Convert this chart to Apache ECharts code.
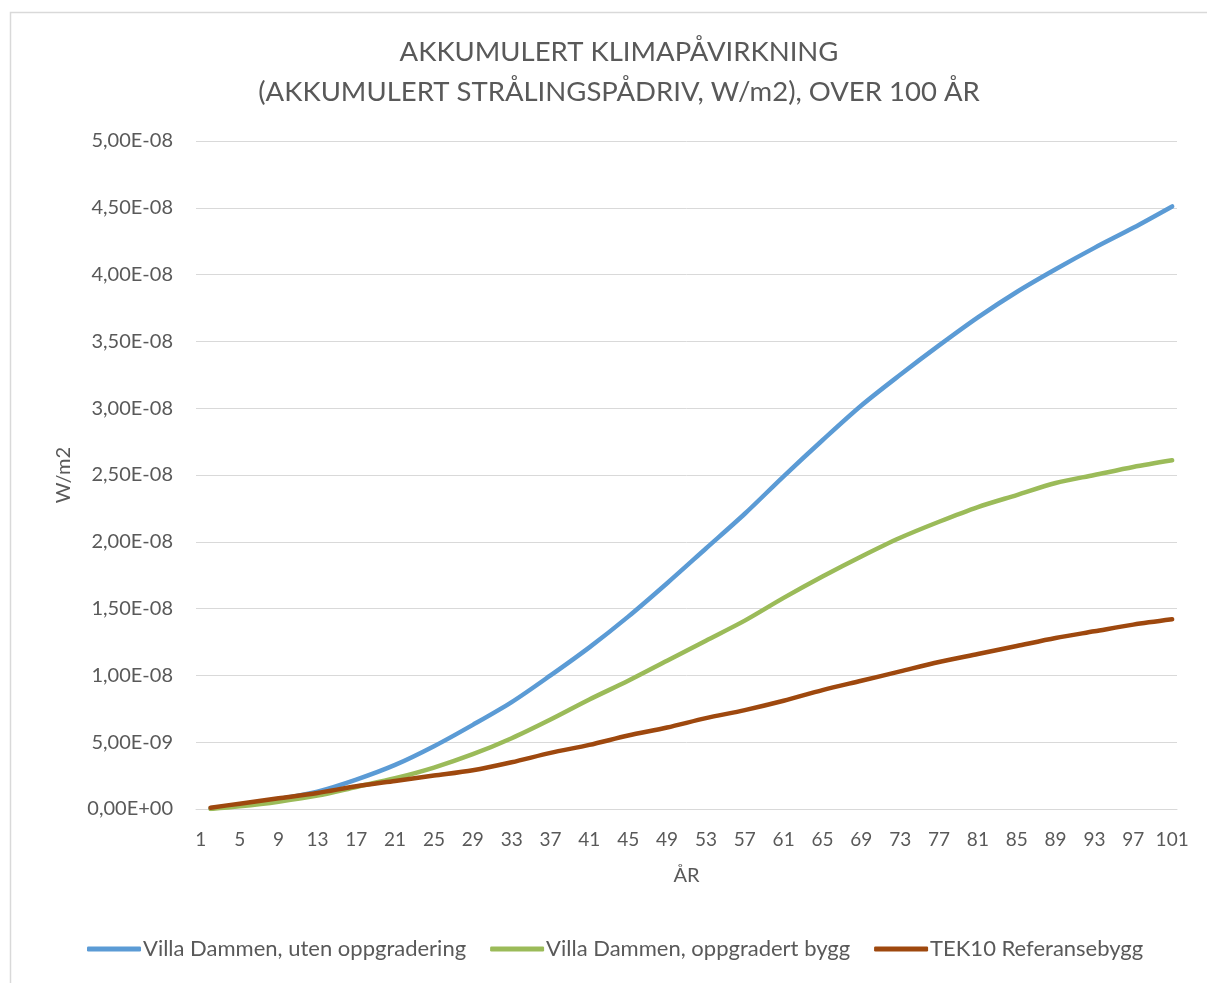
<!DOCTYPE html>
<html>
<head>
<meta charset="utf-8">
<title>Akkumulert klimapåvirkning</title>
<script src="https://cdn.jsdelivr.net/npm/echarts@6/dist/echarts.min.js"></script>
<style>
  html, body { margin: 0; padding: 0; background: #fff; }
  #chart { width: 1207px; height: 983px; }
</style>
</head>
<body>
<div id="chart"></div>
<script>
// år 1..101 på x-aksen
var years = [];
for (var y = 1; y <= 101; y++) years.push(String(y));

// avleste punkter (år), verdier i enheter av 1E-08 W/m2
var sampleYears = [2, 5, 9, 13, 17, 21, 25, 29, 33, 37, 41, 45, 49, 53, 57, 61, 65, 69, 73, 77, 81, 85, 89, 93, 97, 101];
var utenOppgradering = [0.005, 0.03, 0.075, 0.13, 0.22, 0.33, 0.47, 0.63, 0.80, 1.00, 1.21, 1.44, 1.69, 1.95, 2.21, 2.49, 2.76, 3.02, 3.25, 3.47, 3.68, 3.87, 4.04, 4.20, 4.35, 4.51];
var oppgradertBygg = [0.0, 0.02, 0.055, 0.10, 0.165, 0.23, 0.31, 0.41, 0.53, 0.67, 0.82, 0.96, 1.11, 1.26, 1.41, 1.58, 1.74, 1.89, 2.03, 2.15, 2.26, 2.35, 2.44, 2.50, 2.56, 2.61];
var referansebygg = [0.01, 0.04, 0.08, 0.12, 0.17, 0.21, 0.25, 0.29, 0.35, 0.42, 0.48, 0.55, 0.61, 0.68, 0.74, 0.81, 0.89, 0.96, 1.03, 1.10, 1.16, 1.22, 1.28, 1.33, 1.38, 1.42];
var UNIT = 1e-8;

var seriesNames = ['Villa Dammen, uten oppgradering', 'Villa Dammen, oppgradert bygg', 'TEK10 Referansebygg'];
var seriesColors = ['#5B9BD5', '#9BBB59', '#9E480E'];

function toPairs(vals) {
    return sampleYears.map(function (yr, i) { return [String(yr), vals[i] * UNIT]; });
}

function sciLabel(v) {
    var s = v.toExponential(2);           // "4.50e-8"
    var parts = s.split('e');
    var exp = parseInt(parts[1], 10);
    var sign = exp < 0 ? '-' : '+';
    var e = Math.abs(exp);
    return parts[0].replace('.', ',') + 'E' + sign + (e < 10 ? '0' + e : e);
}

var FONT = 'Lato, "Open Sans", sans-serif';
var TXT = '#595959';

var myChart = echarts.init(document.getElementById('chart'), null, {renderer: 'canvas'});
var option = {
    backgroundColor: '#fff',
    animation: false,
    textStyle: {fontFamily: FONT},
    graphic: [{
        type: 'rect',
        left: 8, top: 10,
        shape: {width: 1230, height: 1000},
        style: {fill: 'none', stroke: '#D9D9D9', lineWidth: 1.5},
        silent: true
    }],
    title: {
        text: 'AKKUMULERT KLIMAPÅVIRKNING\n(AKKUMULERT STRÅLINGSPÅDRIV, W/m2), OVER 100 ÅR',
        left: 614, top: 27,
        textAlign: 'center',
        textStyle: {fontFamily: FONT, fontSize: 27.5, fontWeight: 'normal', color: TXT, lineHeight: 40}
    },
    legend: {
        data: seriesNames,
        bottom: 18,
        left: 82,
        itemWidth: 54,
        itemHeight: 5,
        itemGap: 24,
        icon: 'roundRect',
        textStyle: {fontFamily: FONT, fontSize: 22, color: TXT, padding: [0, 0, 0, -3]}
    },
    grid: {left: 196, right: 30, top: 141, bottom: 174, containLabel: false},
    xAxis: {
        type: 'category',
        data: years,
        boundaryGap: true,
        name: 'ÅR',
        nameLocation: 'middle',
        nameGap: 57,
        nameTextStyle: {fontFamily: FONT, fontSize: 20, color: TXT},
        axisLine: {lineStyle: {color: '#D9D9D9', width: 1}},
        axisTick: {show: false},
        axisLabel: {interval: 3, margin: 21, fontFamily: FONT, fontSize: 19, color: TXT}
    },
    yAxis: {
        type: 'value',
        min: 0,
        max: 5e-8,
        interval: 5e-9,
        name: 'W/m2',
        nameLocation: 'middle',
        nameGap: 122,
        nameTextStyle: {fontFamily: FONT, fontSize: 20, color: TXT},
        axisLine: {show: false},
        axisTick: {show: false},
        splitLine: {lineStyle: {color: '#D9D9D9', width: 1}},
        axisLabel: {margin: 23, fontFamily: FONT, fontSize: 20, color: TXT, formatter: sciLabel}
    },
    series: [utenOppgradering, oppgradertBygg, referansebygg].map(function (vals, i) {
        return {
            name: seriesNames[i],
            type: 'line',
            data: toPairs(vals),
            smooth: 0.3,
            showSymbol: false,
            symbol: 'none',
            lineStyle: {color: seriesColors[i], width: 4.5, cap: 'round'},
            itemStyle: {color: seriesColors[i]}
        };
    })
};
myChart.setOption(option);
</script>
</body>
</html>
